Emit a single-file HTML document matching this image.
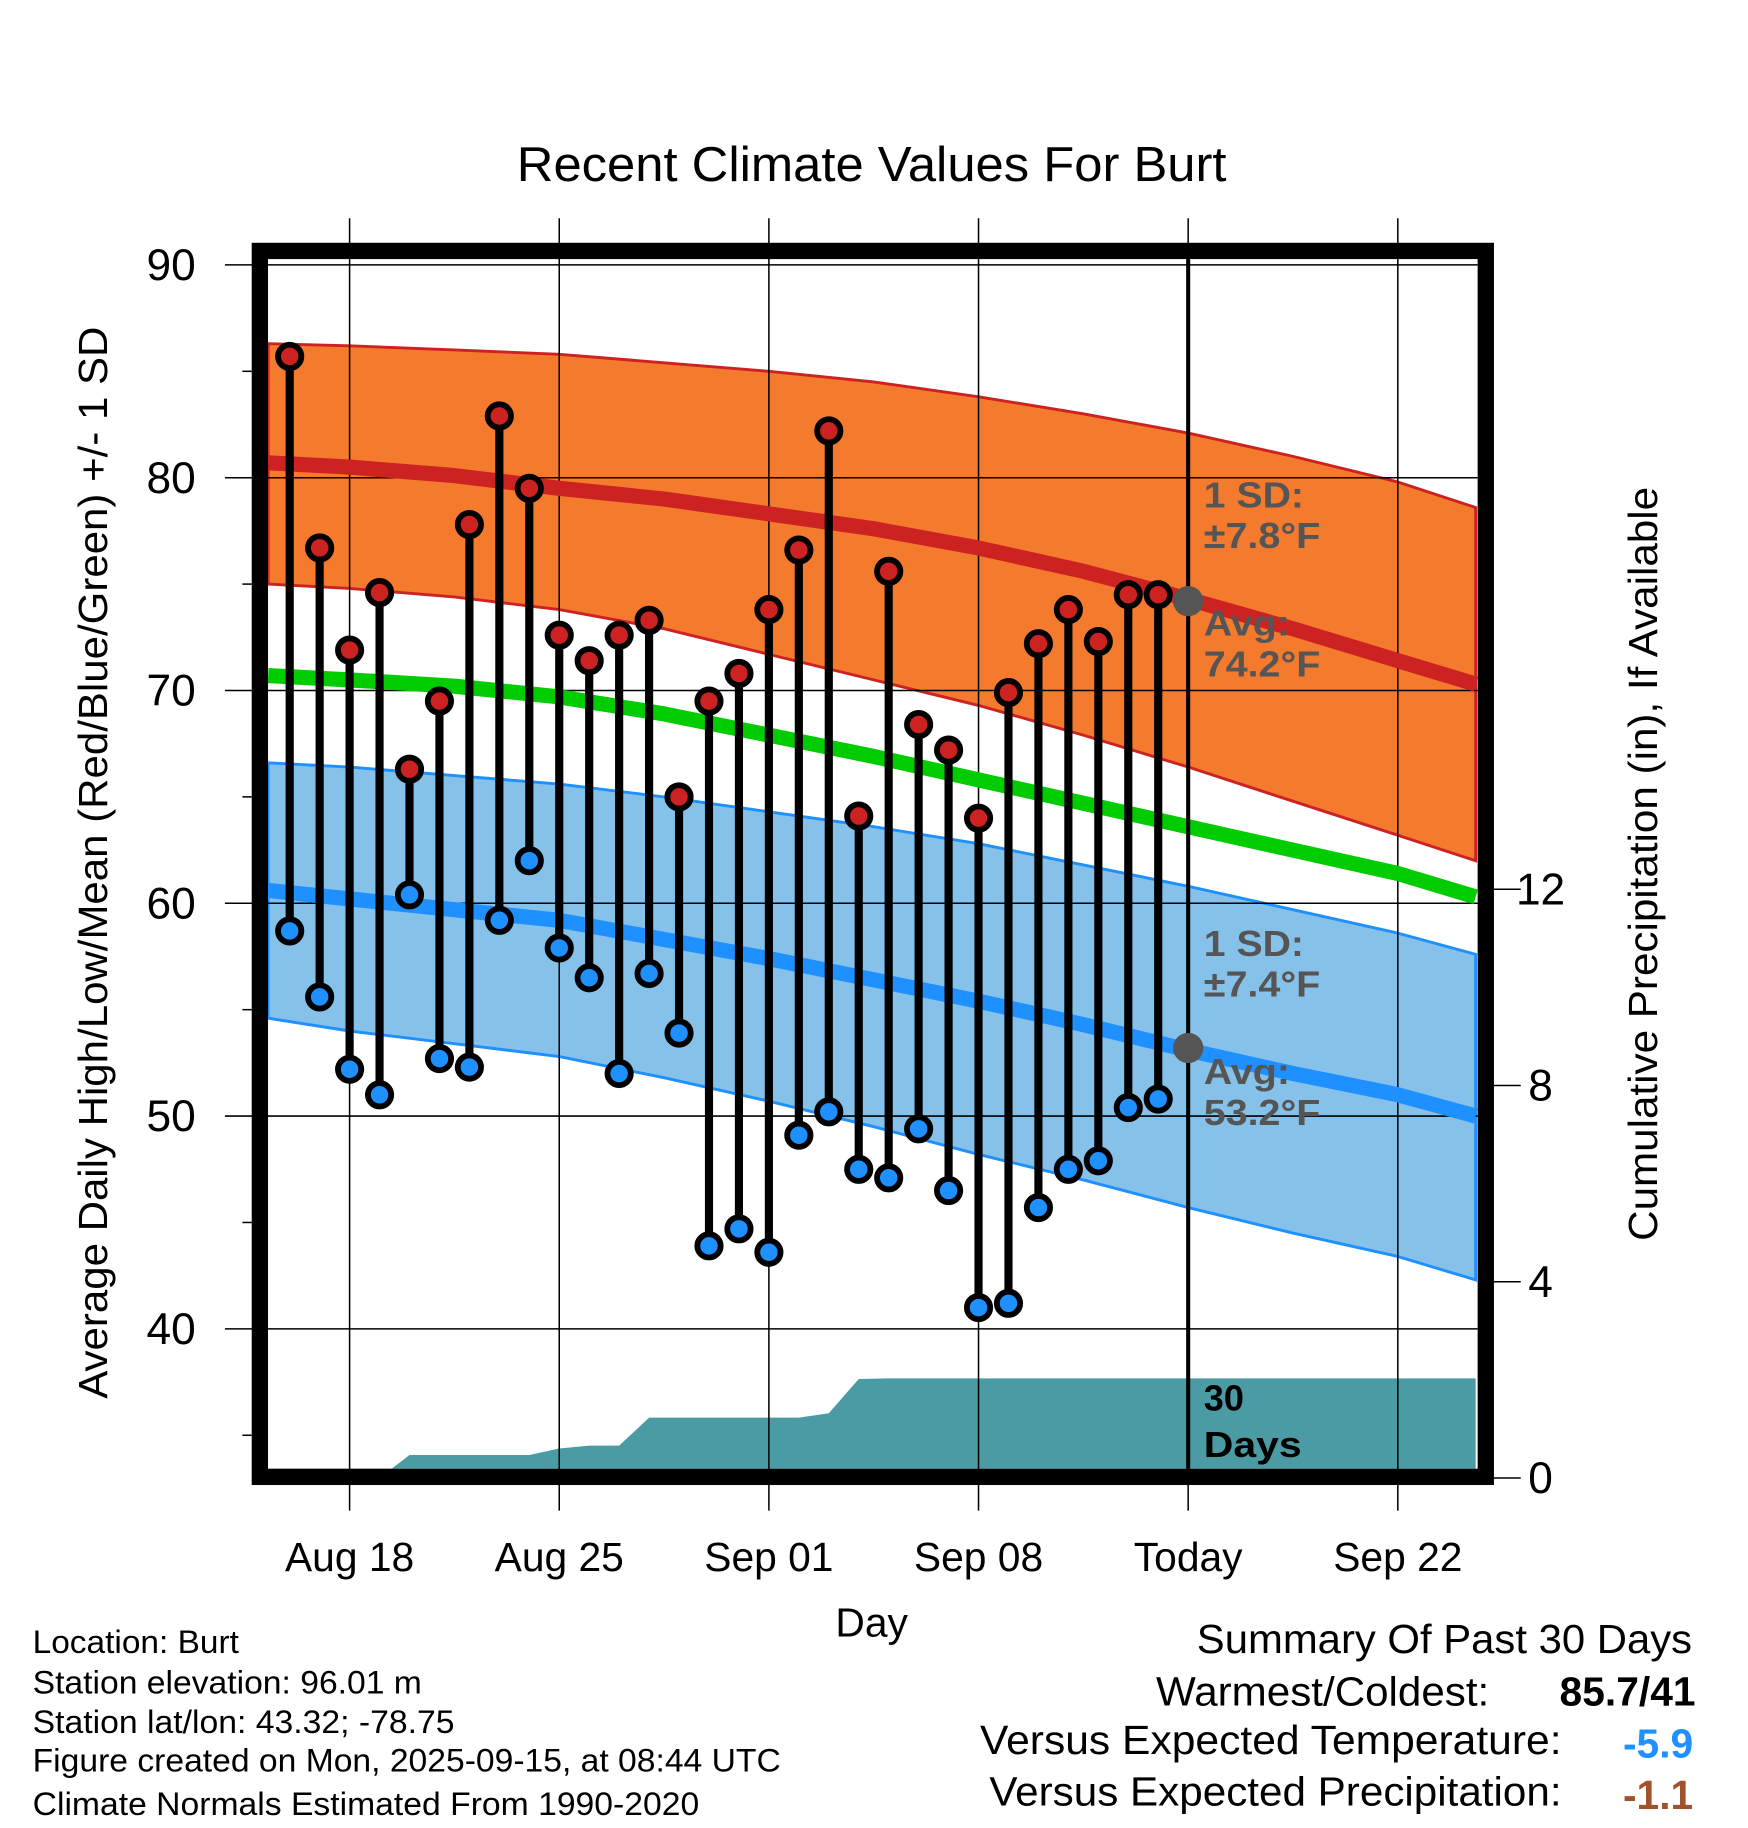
<!DOCTYPE html>
<html><head><meta charset="utf-8"><style>
html,body{margin:0;padding:0;background:#fff;}
svg{display:block;font-family:"Liberation Sans",Arial,sans-serif;}
</style></head><body>
<svg id="chart" width="1748" height="1828" viewBox="0 0 1500 1568" xmlns="http://www.w3.org/2000/svg">
<g id="layer"></g>
</svg>
<script>
// ---- data ----
const normDays = [-2.72, 0, 3.5, 7, 10.5, 14, 17.5, 21, 24.5, 28, 31.5, 35, 37.6];
const normHigh = [80.7, 80.5, 80.1, 79.5, 79.0, 78.3, 77.6, 76.7, 75.6, 74.3, 72.9, 71.4, 70.3];
const highBandUpper = [86.3, 86.2, 86.0, 85.8, 85.4, 85.0, 84.5, 83.8, 83.0, 82.1, 81.0, 79.8, 78.6];
const highBandLower = [75.0, 74.8, 74.4, 73.8, 72.9, 71.7, 70.5, 69.3, 67.9, 66.4, 64.8, 63.2, 62.0];
const normMean = [70.7, 70.5, 70.2, 69.7, 68.9, 67.9, 66.9, 65.8, 64.7, 63.6, 62.5, 61.4, 60.3];
const normLow = [60.6, 60.2, 59.7, 59.2, 58.3, 57.4, 56.4, 55.4, 54.3, 53.1, 52.0, 51.0, 50.0];
const lowBandUpper = [66.6, 66.4, 66.0, 65.6, 65.0, 64.3, 63.6, 62.8, 61.8, 60.8, 59.7, 58.6, 57.6];
const lowBandLower = [54.6, 54.0, 53.4, 52.8, 51.8, 50.7, 49.5, 48.2, 47.0, 45.7, 44.5, 43.4, 42.3];
const obsDays = [-2,-1,0,1,2,3,4,5,6,7,8,9,10,11,12,13,14,15,16,17,18,19,20,21,22,23,24,25,26,27];
const highs = [85.7,76.7,71.9,74.6,66.3,69.5,77.8,82.9,79.5,72.6,71.4,72.6,73.3,65.0,69.5,70.8,73.8,76.6,82.2,64.1,75.6,68.4,67.2,64.0,69.9,72.2,73.8,72.3,74.5,74.5];
const lows = [58.7,55.6,52.2,51.0,60.4,52.7,52.3,59.2,62.0,57.9,56.5,52.0,56.7,53.9,43.9,44.7,43.6,49.1,50.2,47.5,47.1,49.4,46.5,41.0,41.2,45.7,47.5,47.9,50.4,50.8];
const precipDays = [-2.72,-2,-1,0,1,2,3,4,5,6,7,8,9,10,11,12,13,14,15,16,17,18,19,20,21,22,23,24,25,26,27,37.6];
const precip = [0,0,0,0,0,0.47,0.47,0.47,0.47,0.47,0.6,0.66,0.66,1.23,1.23,1.23,1.23,1.23,1.23,1.32,2.02,2.03,2.03,2.03,2.03,2.03,2.03,2.03,2.03,2.03,2.03,2.03];
const xTickDays = [0,7,14,21,28,35];
const xTickLabels = ["Aug 18","Aug 25","Sep 01","Sep 08","Today","Sep 22"];
const yTicks = [40,50,60,70,80,90];
const pTicks = [0,4,8,12];

// ---- axes ----
const X = d => 300 + d*25.7;
const Y = v => 227 + (90 - v)*18.26;
const P = p => 1268 - p*42.1;
const L = 230, R = 1268, T = 222, B = 1260;
const NS = "http://www.w3.org/2000/svg";
const g = document.getElementById('layer');
function mk(tag, attrs, parent){ const e=document.createElementNS(NS,tag); for(const k in attrs) e.setAttribute(k,attrs[k]); (parent||g).appendChild(e); return e; }
function txt(s, attrs, len){ const e=mk('text',attrs); e.textContent=s; if(len){e.setAttribute('textLength',len); e.setAttribute('lengthAdjust','spacingAndGlyphs');} return e; }
function pts(days, vals, f){ return days.map((d,i)=>X(d).toFixed(1)+','+f(vals[i]).toFixed(1)); }
function band(up, lo){ return pts(normDays, up, Y).concat(pts(normDays, lo, Y).reverse()).join(' '); }

const clip = mk('clipPath',{id:'pc'}); mk('rect',{x:L,y:T,width:R-L,height:B-T},clip);

let e;
e = txt('Recent Climate Values For Burt',{x:748,y:155,'font-size':42,'text-anchor':'middle'},609);
 

const pg = mk('g',{'clip-path':'url(#pc)'});
e = mk('polygon',{points:band(highBandUpper,highBandLower),fill:'#f47a2e',stroke:'#cc2222','stroke-width':2.5},pg);
 
e = mk('polygon',{points:band(lowBandUpper,lowBandLower),fill:'#85c1e9',stroke:'#1e90ff','stroke-width':2.5},pg);
 
const pp = pts(precipDays, precip, P);
e = mk('polygon',{points:[X(precipDays[0]).toFixed(1)+','+B].concat(pp).concat([X(precipDays[precipDays.length-1]).toFixed(1)+','+B]).join(' '),fill:'#4a9ba3'},pg);
 
yTicks.forEach(v=>{ const l=mk('line',{x1:193,x2:R,y1:Y(v),y2:Y(v),stroke:'#000','stroke-width':1.3});
    });
xTickDays.forEach(d=>{ const l=mk('line',{x1:X(d),x2:X(d),y1:187,y2:1296,stroke:'#000','stroke-width':1.3});
    });
[35,45,55,65,75,85].forEach(v=>{ mk('line',{x1:208,x2:216,y1:Y(v),y2:Y(v),stroke:'#000','stroke-width':1.3}); });
pTicks.forEach(p=>{ const l=mk('line',{x1:1280,x2:1305,y1:P(p),y2:P(p),stroke:'#000','stroke-width':1.3});
    });
const pg2 = mk('g',{'clip-path':'url(#pc)'});
e = mk('polyline',{points:pts(normDays,normHigh,Y).join(' '),fill:'none',stroke:'#cc2222','stroke-width':13,'stroke-linejoin':'round'},pg2);
 
e = mk('polyline',{points:pts(normDays,normMean,Y).join(' '),fill:'none',stroke:'#00cc00','stroke-width':13,'stroke-linejoin':'round'},pg2);
 
e = mk('polyline',{points:pts(normDays,normLow,Y).join(' '),fill:'none',stroke:'#1e90ff','stroke-width':13,'stroke-linejoin':'round'},pg2);
 
e = mk('rect',{x:223,y:215,width:1052,height:1052,fill:'none',stroke:'#000','stroke-width':14});
 
e = mk('line',{x1:X(28),x2:X(28),y1:T,y2:B,stroke:'#000','stroke-width':3.5});
 
obsDays.forEach((d,i)=>{
  const s=mk('line',{x1:X(d),x2:X(d),y1:Y(highs[i]),y2:Y(lows[i]),stroke:'#000','stroke-width':7});
   
});
obsDays.forEach((d,i)=>{
  const h=mk('circle',{cx:X(d),cy:Y(highs[i]),r:10,fill:'#cc2222',stroke:'#000','stroke-width':5});
   
  const l=mk('circle',{cx:X(d),cy:Y(lows[i]),r:10,fill:'#1e90ff',stroke:'#000','stroke-width':5});
   
});
e = mk('circle',{cx:X(28),cy:Y(74.2),r:13,fill:'#555'});
 
e = mk('circle',{cx:X(28),cy:Y(53.2),r:13,fill:'#555'});
 
const ann = [["1 SD:",435,'#555',86],["±7.8°F",470,'#555',100],["Avg:",545,'#555',74],["74.2°F",580,'#555',100],["1 SD:",820,'#555',86],["±7.4°F",855,'#555',100],["Avg:",930,'#555',74],["53.2°F",965,'#555',100],["30",1210,'#000',0],["Days",1250,'#000',84]];
ann.forEach(a=>{ const t=txt(a[0],{x:1033,y:a[1],'font-size':31,'font-weight':'bold',fill:a[2]},a[3]||null);
    });
yTicks.forEach(v=>{ const t=txt(String(v),{x:168,y:Y(v)+13,'font-size':38,'text-anchor':'end'});
    });
pTicks.forEach(p=>{ const t=txt(String(p),{x:1322,y:P(p)+13,'font-size':38,'text-anchor':'middle'});
    });
xTickDays.forEach((d,i)=>{ const t=txt(xTickLabels[i],{x:X(d),y:1348,'font-size':35,'text-anchor':'middle'});
    });
e = txt('Day',{x:748,y:1404,'font-size':35,'text-anchor':'middle'});
 
e = txt('Average Daily High/Low/Mean (Red/Blue/Green) +/- 1 SD',{x:0,y:0,'font-size':35,'text-anchor':'middle',transform:'translate(92,740) rotate(-90)'},920);
 
e = txt('Cumulative Precipitation (in), If Available',{x:0,y:0,'font-size':35,'text-anchor':'middle',transform:'translate(1422,741) rotate(-90)'},647);
 
const foot = ["Location: Burt","Station elevation: 96.01 m","Station lat/lon: 43.32; -78.75","Figure created on Mon, 2025-09-15, at 08:44 UTC","Climate Normals Estimated From 1990-2020"];
const footLen = [177,334,362,642,572];
foot.forEach((s,i)=>{
  const t=txt(s,{x:28,y:[1418,1453,1487,1520,1557][i],'font-size':28},footLen[i]);
    });
e = txt('Summary Of Past 30 Days',{x:1027,y:1418,'font-size':35},425);
 
e = txt('Warmest/Coldest:',{x:992,y:1463,'font-size':35},286);
 
e = txt('85.7/41',{x:1455,y:1463,'font-size':35,'font-weight':'bold','text-anchor':'end'});
 
e = txt('Versus Expected Temperature:',{x:841,y:1505,'font-size':35},499);
 
e = txt('-5.9',{x:1453,y:1508,'font-size':35,'font-weight':'bold','text-anchor':'end',fill:'#1e90ff'});
 
e = txt('Versus Expected Precipitation:',{x:849,y:1549,'font-size':35},491);
 
e = txt('-1.1',{x:1453,y:1552,'font-size':35,'font-weight':'bold','text-anchor':'end',fill:'#a0522d'});
 
</script>
</body></html>
